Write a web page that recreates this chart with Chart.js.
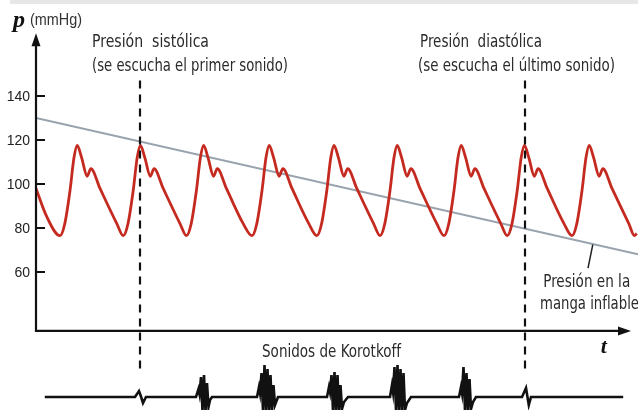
<!DOCTYPE html>
<html lang="es">
<head>
<meta charset="utf-8">
<title>Presión arterial y sonidos de Korotkoff</title>
<script src="https://cdn.jsdelivr.net/npm/chart.js@4.4.1/dist/chart.umd.min.js"></script>
<style>
  html, body { margin: 0; padding: 0; background: #fff; }
  canvas { display: block; }
</style>
</head>
<body>
<canvas id="chart" width="638" height="410"></canvas>
<script>
// Presión arterial (mmHg), tiempo en s
const pulseT = [
  0, 0.13,
  0.30, 0.36, 0.425, 0.475, 0.515, 0.57, 0.64, 0.685, 0.80, 1.01,
  1.09, 1.15, 1.215, 1.265, 1.305, 1.36, 1.43, 1.475, 1.59, 1.80,
  1.88, 1.94, 2.005, 2.055, 2.095, 2.15, 2.22, 2.265, 2.38, 2.59,
  2.70, 2.76, 2.825, 2.875, 2.915, 2.97, 3.04, 3.085, 3.20, 3.41,
  3.51, 3.57, 3.635, 3.685, 3.725, 3.78, 3.85, 3.895, 4.01, 4.22,
  4.30, 4.36, 4.425, 4.475, 4.515, 4.57, 4.64, 4.685, 4.80, 5.01,
  5.10, 5.16, 5.225, 5.275, 5.315, 5.37, 5.44, 5.485, 5.60, 5.81,
  5.89, 5.95, 6.015, 6.065, 6.105, 6.16, 6.23, 6.275, 6.39, 6.60,
  6.70, 6.76, 6.825, 6.875, 6.915, 6.97, 7.04, 7.085, 7.20, 7.41,
  7.48, 7.51
];
const pulseP = [
  98, 85.5,
  76.5, 82, 97, 112, 117.5, 112, 103.5, 107, 98, 82,
  76.5, 82, 97, 112, 117.5, 112, 103.5, 107, 98, 82,
  76.5, 82, 97, 112, 117.5, 112, 103.5, 107, 98, 82,
  76.5, 82, 97, 112, 117.5, 112, 103.5, 107, 98, 82,
  76.5, 82, 97, 112, 117.5, 112, 103.5, 107, 98, 82,
  76.5, 82, 97, 112, 117.5, 112, 103.5, 107, 98, 82,
  76.5, 82, 97, 112, 117.5, 112, 103.5, 107, 98, 82,
  76.5, 82, 97, 112, 117.5, 112, 103.5, 107, 98, 82,
  76.5, 82, 97, 112, 117.5, 112, 103.5, 107, 98, 82,
  76.5, 77.5
];

// Presión en la manga inflable (mmHg)
const cuffT = [0, 7.525];
const cuffP = [130, 68];

// Sonidos de Korotkoff: [t, amplitud]
const korotkoff = [
  [0.11, 0],
  [1.2375, 0], [1.2875, 6], [1.31, 1], [1.3375, -6], [1.375, 0],
  [2.0, 0], [2.03125, 8], [2.04375, 3], [2.0625, 20], [2.08125, -14], [2.1, 22],
  [2.11875, -14], [2.1375, 14], [2.15625, -10], [2.175, -3], [2.2, 0],
  [2.7625, 0], [2.7875, 10], [2.80, 4], [2.81875, 24], [2.8375, -14], [2.85625, 32], [2.875, -14],
  [2.89375, 28], [2.9125, -14], [2.93125, 22], [2.95, -14], [2.96875, 12], [2.9875, -8], [3.025, 0],
  [3.6375, 0], [3.6625, 10], [3.675, 5], [3.69375, 22], [3.7125, -14], [3.73125, 25], [3.75, -14],
  [3.76875, 22], [3.7875, -14], [3.80625, 12], [3.825, -12], [3.85, -5], [3.9, 0],
  [4.425, 0], [4.45, 12], [4.4625, 5], [4.48125, 30], [4.5, -14], [4.51875, 32], [4.5375, -14],
  [4.55625, 28], [4.575, -14], [4.59375, 24], [4.6125, -13], [4.6375, -6], [4.6875, 0],
  [5.2875, 0], [5.3125, 10], [5.325, 4], [5.34375, 30], [5.3625, -14], [5.38125, 24], [5.4, -14],
  [5.41875, 18], [5.4375, -12], [5.4625, -5], [5.5, 0],
  [6.075, 0], [6.125, 9], [6.16, -8], [6.1875, 0],
  [7.34, 0]
];

// primer y último sonido (presión sistólica / diastólica)
const markT = [1.30, 6.11];
const yTicks = [60, 80, 100, 120, 140];

// extremos de los ejes dibujados
const axisPMin = 33.2, axisPTop = 168.5, axisTEnd = 7.4375;

const notes = [
  { text: 'Presión  sistólica', t: 0.70, p: 162.3, w: 117 },
  { text: '(se escucha el primer sonido)', t: 0.70, p: 151.4, w: 196 },
  { text: 'Presión  diastólica', t: 4.80, p: 162.3, w: 122 },
  { text: '(se escucha el último sonido)', t: 4.775, p: 151.4, w: 197 },
  { text: 'Presión en la', t: 6.34, p: 53.2, w: 87 },
  { text: 'manga inflable', t: 6.30, p: 43.2, w: 99 }
];

const LABEL_FONT = "17px 'Liberation Sans Narrow', 'Arial Narrow', 'DejaVu Sans Condensed', 'Liberation Sans', sans-serif";
const TICK_FONT = "14px 'Liberation Sans', Arial, sans-serif";
const SYMBOL_FONT = "italic bold 24px 'Liberation Serif', 'DejaVu Serif', serif";

const decor = {
  id: 'decor',
  afterDatasetsDraw(chart) {
    const { ctx } = chart;
    const xs = chart.scales.x, ys = chart.scales.y, ks = chart.scales.ys;
    const x0 = xs.getPixelForValue(0);
    const yBase = ys.getPixelForValue(axisPMin);
    const yTop = ys.getPixelForValue(axisPTop);
    const xEnd = xs.getPixelForValue(axisTEnd);

    ctx.save();
    // banda gris superior
    ctx.fillStyle = '#e7e7e7';
    ctx.fillRect(10, 0, chart.width - 10, 4);

    // líneas discontinuas
    ctx.strokeStyle = '#111';
    ctx.lineWidth = 2.2;
    ctx.setLineDash([8, 6]);
    markT.forEach(t => {
      const x = Math.round(xs.getPixelForValue(t));
      ctx.beginPath();
      ctx.moveTo(x, ys.getPixelForValue(147));
      ctx.lineTo(x, ys.getPixelForValue(14.5));
      ctx.stroke();
    });
    ctx.setLineDash([]);

    // ejes con flecha
    ctx.strokeStyle = '#111';
    ctx.fillStyle = '#111';
    ctx.lineWidth = 2.2;
    ctx.beginPath();
    ctx.moveTo(x0, yBase + 1);
    ctx.lineTo(x0, yTop + 8);
    ctx.moveTo(x0 - 1, yBase);
    ctx.lineTo(xEnd - 8, yBase);
    ctx.stroke();
    ctx.beginPath();
    ctx.moveTo(x0, yTop);
    ctx.lineTo(x0 - 4.5, yTop + 13);
    ctx.lineTo(x0 + 4.5, yTop + 13);
    ctx.closePath();
    ctx.fill();
    ctx.beginPath();
    ctx.moveTo(xEnd, yBase);
    ctx.lineTo(xEnd - 13, yBase - 4.5);
    ctx.lineTo(xEnd - 13, yBase + 4.5);
    ctx.closePath();
    ctx.fill();

    // marcas y etiquetas del eje p
    ctx.lineWidth = 2;
    ctx.font = TICK_FONT;
    ctx.textAlign = 'right';
    ctx.textBaseline = 'middle';
    ctx.fillStyle = '#222';
    yTicks.forEach(v => {
      const y = Math.round(ys.getPixelForValue(v));
      ctx.beginPath();
      ctx.moveTo(x0, y);
      ctx.lineTo(x0 + 9, y);
      ctx.stroke();
      ctx.fillText(String(v), x0 - 6, y + 1);
    });

    // títulos de ejes
    ctx.textBaseline = 'alphabetic';
    ctx.textAlign = 'left';
    ctx.fillStyle = '#111';
    ctx.font = SYMBOL_FONT;
    ctx.fillText('p', x0 - 23, ys.getPixelForValue(171.4));
    ctx.font = "16px 'Liberation Sans Narrow', 'Arial Narrow', 'Liberation Sans', sans-serif";
    ctx.fillStyle = '#333';
    ctx.fillText('(mmHg)', x0 - 6, ys.getPixelForValue(172.3), 52);
    ctx.font = "italic bold 22px 'Liberation Serif', 'DejaVu Serif', serif";
    ctx.fillStyle = '#111';
    ctx.fillText('t', xs.getPixelForValue(7.06), ks.getPixelForValue(44));

    // anotaciones
    ctx.font = LABEL_FONT;
    ctx.fillStyle = '#2a2a2a';
    notes.forEach(n => {
      ctx.fillText(n.text, xs.getPixelForValue(n.t), ys.getPixelForValue(n.p), n.w);
    });
    ctx.fillText('Sonidos de Korotkoff', xs.getPixelForValue(2.825), ks.getPixelForValue(40), 139);

    // línea guía a la presión de la manga
    ctx.strokeStyle = '#222';
    ctx.lineWidth = 1.5;
    ctx.beginPath();
    ctx.moveTo(xs.getPixelForValue(6.96), ys.getPixelForValue(72.4));
    ctx.lineTo(xs.getPixelForValue(6.90), ys.getPixelForValue(61.8));
    ctx.stroke();
    ctx.restore();
  }
};

const ctx = document.getElementById('chart').getContext('2d');
new Chart(ctx, {
  type: 'line',
  data: {
    datasets: [
      {
        label: 'Presión arterial',
        data: pulseT.map((t, i) => ({ x: t, y: pulseP[i] })),
        borderColor: '#c52a20',
        borderWidth: 2.8,
        pointRadius: 0,
        cubicInterpolationMode: 'monotone',
        yAxisID: 'y'
      },
      {
        label: 'Presión en la manga inflable',
        data: cuffT.map((t, i) => ({ x: t, y: cuffP[i] })),
        borderColor: '#98a3ad',
        borderWidth: 2,
        pointRadius: 0,
        tension: 0,
        yAxisID: 'y'
      },
      {
        label: 'Sonidos de Korotkoff',
        data: korotkoff.map(([t, a]) => ({ x: t, y: a })),
        borderColor: '#111',
        borderWidth: 2.6,
        pointRadius: 0,
        tension: 0,
        yAxisID: 'ys'
      }
    ]
  },
  options: {
    responsive: false,
    maintainAspectRatio: false,
    animation: false,
    events: [],
    layout: { padding: { left: 36, top: 30, right: 0, bottom: 0 } },
    scales: {
      x: { type: 'linear', min: 0, max: 7.525, display: false },
      y: { type: 'linear', min: -2.73, max: 170, display: false },
      ys: { type: 'linear', axis: 'y', min: -13, max: 367, display: false }
    },
    plugins: {
      legend: { display: false },
      tooltip: { enabled: false }
    }
  },
  plugins: [decor]
});
</script>
</body>
</html>
